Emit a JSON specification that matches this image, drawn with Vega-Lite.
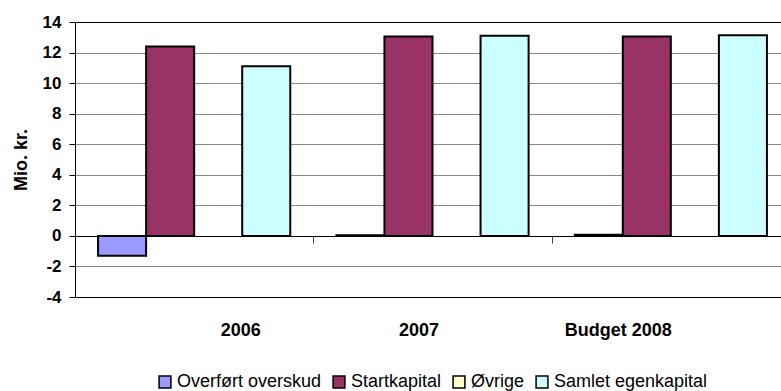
{
  "$schema": "https://vega.github.io/schema/vega-lite/v6.json",
  "width": 715,
  "height": 275,
  "autosize": "none",
  "padding": {"left": 75, "top": 22, "right": 0, "bottom": 94},
  "background": "white",
  "config": {"view": {"stroke": null}, "font": "Liberation Sans"},
  "data": {
    "values": [
      {"year": "2006", "series": "Overført overskud", "value": -1.3},
      {"year": "2006", "series": "Startkapital", "value": 12.4},
      {"year": "2006", "series": "Øvrige", "value": null},
      {"year": "2006", "series": "Samlet egenkapital", "value": 11.1},
      {"year": "2007", "series": "Overført overskud", "value": 0.05},
      {"year": "2007", "series": "Startkapital", "value": 13.05},
      {"year": "2007", "series": "Øvrige", "value": null},
      {"year": "2007", "series": "Samlet egenkapital", "value": 13.1},
      {"year": "Budget 2008", "series": "Overført overskud", "value": 0.08},
      {"year": "Budget 2008", "series": "Startkapital", "value": 13.05},
      {"year": "Budget 2008", "series": "Øvrige", "value": null},
      {"year": "Budget 2008", "series": "Samlet egenkapital", "value": 13.13}
    ]
  },
  "mark": {"type": "bar", "stroke": "black", "strokeWidth": 2},
  "encoding": {
    "x": {
      "field": "year",
      "type": "nominal",
      "sort": ["2006", "2007", "Budget 2008"],
      "scale": {"paddingInner": 0, "paddingOuter": 0},
      "axis": {
        "title": null,
        "offset": -61,
        "domain": false,
        "grid": false,
        "tickBand": "extent",
        "tickSize": 7,
        "tickColor": "#444",
        "labelAngle": 0,
        "labelFontSize": 18,
        "labelFontWeight": "bold",
        "labelColor": "black",
        "labelPadding": 78,
        "labelOffset": {
          "condition": [
            {"test": "datum.value === '2006'", "value": 46},
            {"test": "datum.value === '2007'", "value": -14}
          ],
          "value": -53
        }
      }
    },
    "xOffset": {
      "field": "series",
      "type": "nominal",
      "sort": ["Overført overskud", "Startkapital", "Øvrige", "Samlet egenkapital"],
      "scale": {"paddingInner": 0, "paddingOuter": 0.48}
    },
    "y": {
      "field": "value",
      "type": "quantitative",
      "scale": {"domain": [-4, 14], "nice": false, "zero": false},
      "axis": {
        "values": [-4, -2, 0, 2, 4, 6, 8, 10, 12, 14],
        "labelExpr": "datum.value < 0 ? '-' + abs(datum.value) : '' + datum.value",
        "title": "Mio. kr.",
        "titleFontSize": 18,
        "titleFontWeight": "bold",
        "titleColor": "black",
        "titlePadding": 12,
        "labelFontSize": 17,
        "labelFontWeight": "bold",
        "labelColor": "black",
        "labelPadding": 8,
        "tickSize": 6,
        "tickColor": "black",
        "domainColor": "black",
        "gridColor": {
          "condition": {"test": "datum.value == 0 || datum.value == 14 || datum.value == -4", "value": "black"},
          "value": "#888888"
        },
        "gridOpacity": 1
      }
    },
    "color": {
      "field": "series",
      "type": "nominal",
      "scale": {
        "domain": ["Overført overskud", "Startkapital", "Øvrige", "Samlet egenkapital"],
        "range": ["#9999FF", "#993366", "#FFFFCC", "#CCFFFF"]
      },
      "legend": {
        "orient": "none",
        "legendX": 81,
        "legendY": 351,
        "direction": "horizontal",
        "title": null,
        "labelFontSize": 18,
        "labelColor": "black",
        "symbolType": "square",
        "symbolSize": 140,
        "symbolStrokeColor": "black",
        "symbolStrokeWidth": 1.5,
        "symbolOpacity": 1,
        "columnPadding": 8,
        "labelOffset": 3,
        "padding": 0
      }
    }
  }
}
